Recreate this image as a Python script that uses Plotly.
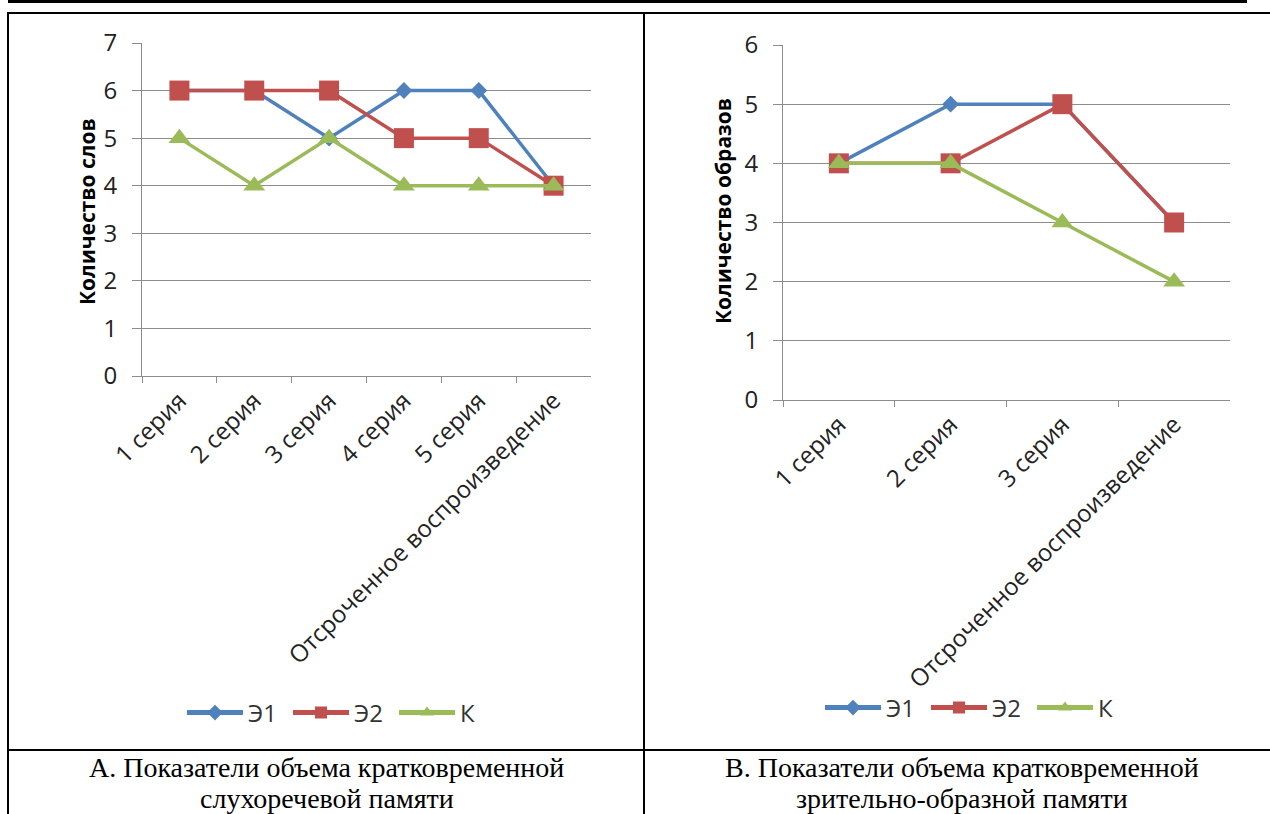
import plotly.graph_objects as go

W, H = 1270, 814

# --- data ---------------------------------------------------------------
cats_a = ["1 серия", "2 серия", "3 серия", "4 серия", "5 серия",
          "Отсроченное воспроизведение"]
e1_a = [6, 6, 5, 6, 6, 4]
e2_a = [6, 6, 6, 5, 5, 4]
k_a = [5, 4, 5, 4, 4, 4]

cats_b = ["1 серия", "2 серия", "3 серия", "Отсроченное воспроизведение"]
e1_b = [4, 5, 5, 3]
e2_b = [4, 4, 5, 3]
k_b = [4, 4, 3, 2]

series_names = ["Э1", "Э2", "К"]
ytitle_a = "Количество слов"
ytitle_b = "Количество образов"
caption_a = ["А. Показатели объема кратковременной", "слухоречевой памяти"]
caption_b = ["В. Показатели объема кратковременной", "зрительно-образной памяти"]

# --- styling ------------------------------------------------------------
BLUE, RED, GREEN = "#4F81BD", "#C0504D", "#9BBB59"
GRID = "#8C8C8C"
SANS = "Open Sans"
SERIF = "Liberation Serif"


def px_x(x):
    return x / W


def px_y(y):
    return 1 - y / H


styles = [
    dict(color=BLUE, symbol="diamond", size=13),
    dict(color=RED, symbol="square", size=20),
    dict(color=GREEN, symbol="triangle-up", size=19),
]

fig = go.Figure()

panels = [
    (cats_a, [e1_a, e2_a, k_a], "x", "y", "legend"),
    (cats_b, [e1_b, e2_b, k_b], "x2", "y2", "legend2"),
]
for cats, vals, xa, ya, lg in panels:
    for name, v, st in zip(series_names, vals, styles):
        fig.add_trace(go.Scatter(
            x=cats, y=v, name=name, mode="lines+markers",
            xaxis=xa, yaxis=ya, legend=lg,
            line=dict(color=st["color"], width=3.5),
            marker=dict(color=st["color"], symbol=st["symbol"], size=st["size"],
                        line=dict(width=0)),
        ))

xcommon = dict(
    type="category", showgrid=False, showline=True, linecolor=GRID, linewidth=1,
    ticks="outside", tickson="boundaries", ticklen=6, tickcolor=GRID,
    tickangle=-45, tickfont=dict(family=SANS, size=24, color="#222"),
    zeroline=False, fixedrange=True, automargin=False,
)
ycommon = dict(
    showgrid=True, gridcolor=GRID, gridwidth=1, showline=True, linecolor=GRID,
    linewidth=1, ticks="outside", ticklen=9, tickcolor=GRID, dtick=1,
    tickfont=dict(family=SANS, size=24, color="#222"), zeroline=False,
    ticklabelstandoff=10, fixedrange=True, automargin=False,
)

legend_common = dict(
    orientation="h", xanchor="center", yanchor="middle", itemwidth=56,
    itemsizing="constant", entrywidth=35, entrywidthmode="pixels",
    bgcolor="rgba(0,0,0,0)", font=dict(family=SANS, size=24, color="#333"),
    tracegroupgap=0,
)

fig.update_layout(
    width=W, height=H,
    margin=dict(l=0, r=0, t=0, b=0, pad=0, autoexpand=False),
    paper_bgcolor="white", plot_bgcolor="white", showlegend=True,
    xaxis=dict(xcommon, domain=[px_x(142), px_x(591)], anchor="y",
               range=[-0.5, len(cats_a) - 0.5]),
    yaxis=dict(ycommon, domain=[px_y(376), px_y(43)], anchor="x", range=[0, 7]),
    xaxis2=dict(xcommon, domain=[px_x(783), px_x(1230)], anchor="y2",
                range=[-0.5, len(cats_b) - 0.5]),
    yaxis2=dict(ycommon, domain=[px_y(400), px_y(45)], anchor="x2", range=[0, 6]),
    legend=dict(legend_common, x=px_x(341), y=px_y(713)),
    legend2=dict(legend_common, x=px_x(979), y=px_y(708)),
)

# y-axis titles
for txt, xc, yc in [(ytitle_a, 87, 212), (ytitle_b, 723, 211)]:
    fig.add_annotation(text=f"<b>{txt}</b>", xref="paper", yref="paper",
                       x=px_x(xc), y=px_y(yc), showarrow=False, textangle=-90,
                       xanchor="center", yanchor="middle",
                       font=dict(family=SANS, size=21, color="#000"))

# captions under each panel (two stacked lines)
for lines, xc in [(caption_a, 327), (caption_b, 962)]:
    for i, line in enumerate(lines):
        fig.add_annotation(text=line, xref="paper", yref="paper",
                           x=px_x(xc), y=px_y(767 + 31 * i), showarrow=False,
                           xanchor="center", yanchor="middle",
                           font=dict(family=SERIF, size=28, color="#000"))

# table rules
rules = [
    (8, 1.5, 1247, 1.5, 3),     # heavy top rule
    (7, 13, W, 13, 2),          # table top border
    (7, 750, W, 750, 2),        # caption row separator
    (8, 12, 8, H, 2),           # left border
    (644, 12, 644, H, 2),       # column divider
]
for x0, y0, x1, y1, w in rules:
    fig.add_shape(type="line", xref="paper", yref="paper",
                  x0=px_x(x0), y0=px_y(y0), x1=px_x(x1), y1=px_y(y1),
                  line=dict(color="black", width=w))

fig.write_html("out.html")
